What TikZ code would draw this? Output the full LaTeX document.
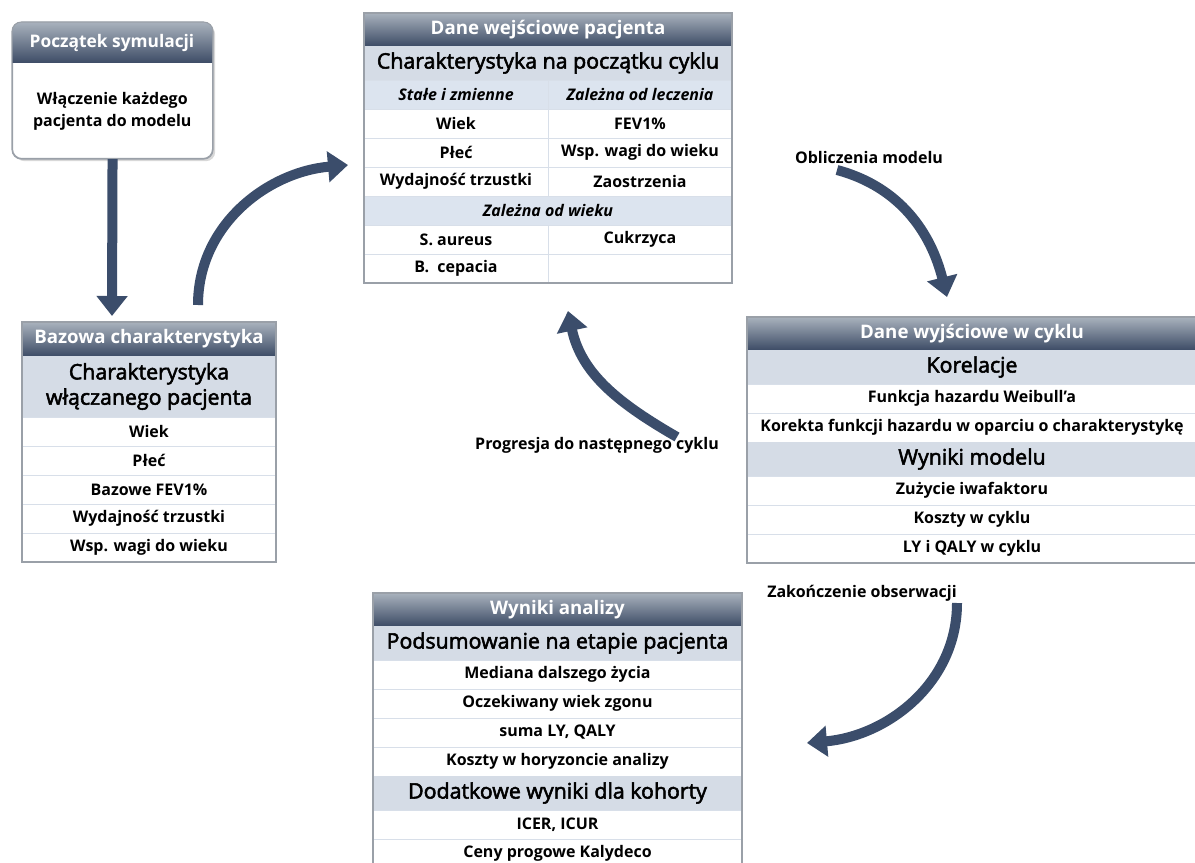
\documentclass[tikz,border=0pt]{standalone}
\usepackage{fontspec}
\setmainfont{Open Sans}
\newfontfamily\subfont[FakeBold=2.5]{Open Sans}
\usetikzlibrary{positioning,calc,arrows.meta,shadows,backgrounds}
\definecolor{hdtop}{HTML}{A9B2BD}
\definecolor{hddark}{HTML}{3D4C66}
\definecolor{arrowc}{HTML}{3B4D6B}
\definecolor{subfill}{HTML}{D5DCE6}
\definecolor{itfill}{HTML}{DCE4EF}
\definecolor{rowline}{HTML}{D8DFE9}
\definecolor{framec}{HTML}{9AA0A8}
\tikzstyle{hdr}=[inner sep=0pt, outer sep=0pt, minimum height=24.75pt, top color=hdtop, bottom color=hddark, text=white, font=\bfseries\fontsize{14}{16}\selectfont]
\tikzstyle{sub}=[inner sep=0pt, outer sep=0pt, minimum height=25.5pt, fill=subfill, align=center, font=\subfont\fontsize{16}{19}\selectfont]
\tikzstyle{row}=[inner sep=0pt, outer sep=0pt, minimum height=21.75pt, fill=white, draw=rowline, line width=0.6pt, font=\bfseries\fontsize{12}{14}\selectfont]
\tikzstyle{itrow}=[row, fill=itfill, font=\bfseries\itshape\fontsize{12}{14}\selectfont]
\tikzstyle{frame}=[draw=framec, line width=0.8pt]
\tikzstyle{shade}=[fill=white, drop shadow={shadow xshift=2pt, shadow yshift=-2pt, opacity=.3}]
\tikzstyle{flow}=[line width=7.5pt, draw=arrowc, -{Triangle[width=22.5pt,length=15pt]}]
\tikzstyle{lbl}=[font=\bfseries\fontsize{12}{14}\selectfont]

\begin{document}
\begin{tikzpicture}[x=0.75pt, y=-0.75pt]
	\clip (0,0) rectangle (1195,863);
	\fill[white] (0,0) rectangle (1195,863);

	\node[shade, frame, rounded corners=7pt, minimum width=150pt, minimum height=102pt, inner sep=0pt, anchor=north west] (start) at (12,22) {};
	\begin{scope}
		\clip[rounded corners=7pt] (start.north west) rectangle (start.south east);
		\node[hdr, minimum width=150pt, minimum height=30.75pt, anchor=north west, font=\bfseries\fontsize{13}{15}\selectfont] (starthdr) at (start.north west) {Początek symulacji};
	\end{scope}
	\draw[frame, rounded corners=7pt] (start.north west) rectangle (start.south east);
	\node[align=center, font=\bfseries\fontsize{12}{16.5}\selectfont] (startbody) at ($(starthdr.south)!0.5!(start.south)$) {Włączenie każdego\\pacjenta do modelu};

	\node[hdr, minimum width=190.5pt, minimum height=25.5pt, anchor=north west] (bazhdr) at (22,322) {Bazowa charakterystyka};
	\node[sub, minimum width=190.5pt, minimum height=45.75pt, below=0pt of bazhdr] (bazsub) {Charakterystyka\\włączanego pacjenta};
	\node[row, minimum width=190.5pt, below=0pt of bazsub] (baz1) {Wiek};
	\node[row, minimum width=190.5pt, below=0pt of baz1] (baz2) {Płeć};
	\node[row, minimum width=190.5pt, below=0pt of baz2] (baz3) {Bazowe FEV1\%};
	\node[row, minimum width=190.5pt, below=0pt of baz3] (baz4) {Wydajność trzustki};
	\node[row, minimum width=190.5pt, below=0pt of baz4] (baz5) {Wsp. wagi do wieku};
	\begin{scope}[on background layer]
		\path[shade] (bazhdr.north west) rectangle (baz5.south east);
	\end{scope}
	\draw[frame] (bazhdr.north west) rectangle (baz5.south east);

	\node[hdr, minimum width=276pt, anchor=north west] (inhdr) at (364,13) {Dane wejściowe pacjenta};
	\node[sub, minimum width=276pt, below=0pt of inhdr] (insub) {Charakterystyka na początku cyklu};
	\node[itrow, minimum width=138pt, anchor=north west] (init) at (insub.south west) {Stałe i zmienne};
	\node[itrow, minimum width=138pt, right=0pt of init] (initr) {Zależna od leczenia};
	\node[row, minimum width=138pt, below=0pt of init] (in1) {Wiek};
	\node[row, minimum width=138pt, right=0pt of in1] (in1r) {FEV1\%};
	\node[row, minimum width=138pt, below=0pt of in1] (in2) {Płeć};
	\node[row, minimum width=138pt, right=0pt of in2] (in2r) {Wsp. wagi do wieku};
	\node[row, minimum width=138pt, below=0pt of in2] (in3) {Wydajność trzustki};
	\node[row, minimum width=138pt, right=0pt of in3] (in3r) {Zaostrzenia};
	\node[itrow, minimum width=276pt, anchor=north west] (init2) at (in3.south west) {Zależna od wieku};
	\node[row, minimum width=138pt, anchor=north west] (in4) at (init2.south west) {S. aureus};
	\node[row, minimum width=138pt, right=0pt of in4] (in4r) {Cukrzyca};
	\node[row, minimum width=138pt, below=0pt of in4] (in5) {B.\ \ cepacia};
	\node[row, minimum width=138pt, right=0pt of in5] (in5r) {};
	\begin{scope}[on background layer]
		\path[shade] (inhdr.north west) rectangle (in5r.south east);
	\end{scope}
	\draw[frame] (inhdr.north west) rectangle (in5r.south east);

	\node[hdr, minimum width=337.5pt, anchor=north west] (outhdr) at (747,317) {Dane wyjściowe w cyklu};
	\node[sub, minimum width=337.5pt, below=0pt of outhdr] (outsub) {Korelacje};
	\node[row, minimum width=337.5pt, below=0pt of outsub] (out1) {Funkcja hazardu Weibull'a};
	\node[row, minimum width=337.5pt, below=0pt of out1] (out2) {Korekta funkcji hazardu w oparciu o charakterystykę};
	\node[sub, minimum width=337.5pt, below=0pt of out2] (outsub2) {Wyniki modelu};
	\node[row, minimum width=337.5pt, below=0pt of outsub2] (out3) {Zużycie iwafaktoru};
	\node[row, minimum width=337.5pt, below=0pt of out3] (out4) {Koszty w cyklu};
	\node[row, minimum width=337.5pt, below=0pt of out4] (out5) {LY i QALY w cyklu};
	\begin{scope}[on background layer]
		\path[shade] (outhdr.north west) rectangle (out5.south east);
	\end{scope}
	\draw[frame] (outhdr.north west) rectangle (out5.south east);

	\node[hdr, minimum width=276.75pt, anchor=north west] (reshdr) at (373,593) {Wyniki analizy};
	\node[sub, minimum width=276.75pt, below=0pt of reshdr] (ressub) {Podsumowanie na etapie pacjenta};
	\node[row, minimum width=276.75pt, below=0pt of ressub] (res1) {Mediana dalszego życia};
	\node[row, minimum width=276.75pt, below=0pt of res1] (res2) {Oczekiwany wiek zgonu};
	\node[row, minimum width=276.75pt, below=0pt of res2] (res3) {suma LY, QALY};
	\node[row, minimum width=276.75pt, below=0pt of res3] (res4) {Koszty w horyzoncie analizy};
	\node[sub, minimum width=276.75pt, below=0pt of res4] (ressub2) {Dodatkowe wyniki dla kohorty};
	\node[row, minimum width=276.75pt, below=0pt of ressub2] (res5) {ICER, ICUR};
	\node[row, minimum width=276.75pt, below=0pt of res5] (res6) {Ceny progowe Kalydeco};
	\begin{scope}[on background layer]
		\path[shade] (reshdr.north west) rectangle (res6.south east);
	\end{scope}
	\draw[frame] (reshdr.north west) rectangle (res6.south east);

	\node[lbl] (obl) at (869,158) {Obliczenia modelu};
	\node[lbl] (prog) at (597,445) {Progresja do następnego cyklu};
	\node[lbl] (zak) at (862,593) {Zakończenie obserwacji};

	\coordinate (downtip) at (112,316);
	\coordinate (c1a) at (198,305);
	\coordinate (c1b) at (348,165);
	\coordinate (c2a) at (837,170);
	\coordinate (c2b) at (947,297);
	\coordinate (c3a) at (957,603);
	\coordinate (c3b) at (807,743);
	\coordinate (c4a) at (677,437);
	\coordinate (c4b) at (568,311);

	\draw[flow] (start.south) -- (downtip);
	\draw[flow] (c1a) to[out=90, in=185] (c1b);
	\draw[flow] (c2a) to[out=-15, in=104] (c2b);
	\draw[flow] (c3a) to[out=-90, in=5] (c3b);
	\draw[flow] (c4a) to[out=150, in=-78] (c4b);
\end{tikzpicture}
\end{document}
